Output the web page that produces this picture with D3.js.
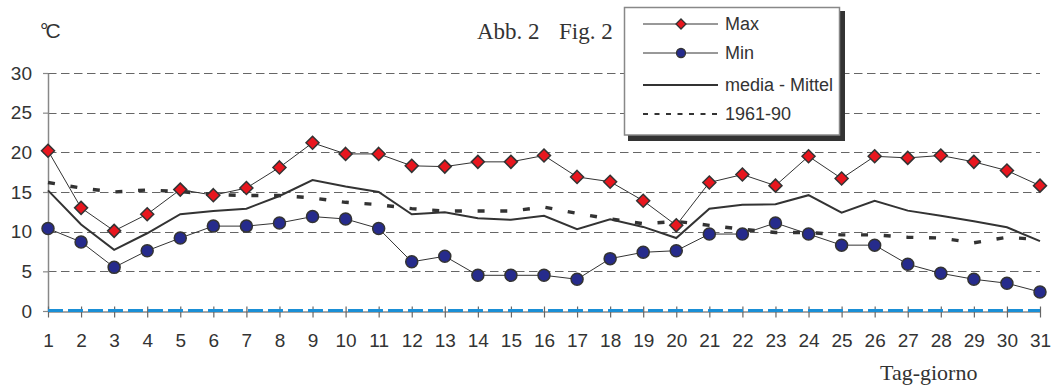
<!DOCTYPE html>
<html>
<head>
<meta charset="utf-8">
<script src="https://cdn.jsdelivr.net/npm/d3@7"></script>
<style>
  html, body { margin: 0; padding: 0; background: #fff; }
  svg { display: block; }
</style>
</head>
<body>
<svg id="chart" width="1051" height="387"></svg>
<script>
const days = d3.range(1, 32);
const yTicks = [0, 5, 10, 15, 20, 25, 30];
const maxTemp = [20.2, 13.0, 10.1, 12.2, 15.3, 14.6, 15.5, 18.1, 21.2, 19.8, 19.8, 18.3, 18.2, 18.8, 18.8, 19.6, 16.9, 16.3, 13.9, 10.8, 16.2, 17.2, 15.8, 19.5, 16.7, 19.5, 19.3, 19.6, 18.8, 17.7, 15.8];
const minTemp = [10.4, 8.7, 5.5, 7.6, 9.2, 10.7, 10.7, 11.1, 11.9, 11.6, 10.4, 6.2, 6.9, 4.5, 4.5, 4.5, 4.0, 6.6, 7.4, 7.6, 9.7, 9.7, 11.1, 9.7, 8.3, 8.3, 5.9, 4.75, 4.0, 3.5, 2.4];
const meanTemp = [15.2, 10.9, 7.7, 9.8, 12.2, 12.6, 12.9, 14.5, 16.5, 15.7, 15.0, 12.2, 12.45, 11.7, 11.5, 12.0, 10.3, 11.55, 10.6, 9.2, 12.9, 13.4, 13.45, 14.6, 12.4, 13.9, 12.65, 12.0, 11.3, 10.55, 8.8];
const normal6190 = [16.2, 15.5, 15.0, 15.25, 15.05, 14.7, 14.55, 14.55, 14.25, 13.7, 13.4, 12.9, 12.6, 12.6, 12.6, 13.1, 12.3, 11.6, 11.0, 11.3, 10.8, 10.3, 9.9, 9.9, 9.6, 9.6, 9.3, 9.2, 8.6, 9.3, 9.0];
const baseline = [0, 0, 0, 0, 0, 0, 0, 0, 0, 0, 0, 0, 0, 0, 0, 0, 0, 0, 0, 0, 0, 0, 0, 0, 0, 0, 0, 0, 0, 0, 0];
const legendLabels = ["Max", "Min", "media - Mittel", "1961-90"];

const svg = d3.select("#chart");
const x = d3.scaleLinear().domain([1, 31]).range([48, 1040]);
const y = d3.scaleLinear().domain([0, 30]).range([311, 73]);
const sans = "'Liberation Sans', Arial, sans-serif";
const serif = "'Liberation Serif', 'Times New Roman', serif";
const textCol = "#333";

// grid lines
svg.append("g").selectAll("line").data(yTicks.filter(d => d > 0)).join("line")
  .attr("x1", x(1)).attr("x2", x(31))
  .attr("y1", d => Math.round(y(d)) + 0.5).attr("y2", d => Math.round(y(d)) + 0.5)
  .attr("stroke", "#666").attr("stroke-width", 1).attr("stroke-dasharray", "8.5,4.5");

// y axis
const yAxis = svg.append("g").attr("transform", `translate(${x(1)},0)`)
  .call(d3.axisLeft(y).tickValues(yTicks).tickSize(5).tickSizeOuter(0).tickPadding(11));
yAxis.select(".domain").attr("stroke", "#888").attr("stroke-width", 1.5);
yAxis.selectAll(".tick line").attr("stroke", "#888").attr("stroke-width", 1.2);
yAxis.selectAll("text").attr("font-family", sans).attr("font-size", 19).attr("fill", textCol);

// x axis
const xAxis = svg.append("g").attr("transform", `translate(0,${y(0) + 0.5})`)
  .call(d3.axisBottom(x).tickValues(days).tickFormat(d3.format("d")).tickSize(6).tickSizeOuter(0).tickPadding(16));
xAxis.select(".domain").attr("stroke", "#888").attr("stroke-width", 1.5);
xAxis.selectAll(".tick line").attr("y1", -5).attr("stroke", "#666").attr("stroke-width", 1.2);
xAxis.selectAll("text").attr("font-family", sans).attr("font-size", 19).attr("fill", textCol);

// blue dashed baseline series
svg.append("path").datum(baseline)
  .attr("d", d3.line().x((d, i) => x(days[i])).y(d => y(d) - 0.5))
  .attr("fill", "none").attr("stroke", "#1a8fd6").attr("stroke-width", 3)
  .attr("stroke-dasharray", "15,5");

const line = d3.line().x((d, i) => x(days[i])).y(d => y(d));

// 1961-90
svg.append("path").datum(normal6190).attr("d", line)
  .attr("fill", "none").attr("stroke", "#333").attr("stroke-width", 3.4)
  .attr("stroke-dasharray", "7,15.7");

// mean
svg.append("path").datum(meanTemp).attr("d", line)
  .attr("fill", "none").attr("stroke", "#333").attr("stroke-width", 2);

// min
svg.append("path").datum(minTemp).attr("d", line)
  .attr("fill", "none").attr("stroke", "#333").attr("stroke-width", 1);
// max
svg.append("path").datum(maxTemp).attr("d", line)
  .attr("fill", "none").attr("stroke", "#333").attr("stroke-width", 1);

const diamond = s => `M0,${-s}L${s},0L0,${s}L${-s},0Z`;

svg.append("g").selectAll("circle").data(minTemp).join("circle")
  .attr("cx", (d, i) => x(days[i])).attr("cy", d => y(d)).attr("r", 6)
  .attr("fill", "#262b8c").attr("stroke", "#333").attr("stroke-width", 1.5);

svg.append("g").selectAll("path").data(maxTemp).join("path")
  .attr("transform", (d, i) => `translate(${x(days[i])},${y(d)})`)
  .attr("d", diamond(6.5))
  .attr("fill", "#e8161e").attr("stroke", "#333").attr("stroke-width", 1.5);

// texts
svg.append("text").attr("x", 40).attr("y", 38).text("°C")
  .attr("letter-spacing", -3)
  .attr("font-family", sans).attr("font-size", 21).attr("fill", textCol);
svg.append("text").attr("x", 477).attr("y", 39).text("Abb. 2")
  .attr("font-family", serif).attr("font-size", 23).attr("fill", textCol);
svg.append("text").attr("x", 559).attr("y", 39).text("Fig. 2")
  .attr("font-family", serif).attr("font-size", 23).attr("fill", textCol);
svg.append("text").attr("x", 880).attr("y", 380).text("Tag-giorno")
  .attr("font-family", serif).attr("font-size", 22).attr("fill", textCol);

// legend
const lg = svg.append("g");
lg.append("rect").attr("x", 628).attr("y", 11).attr("width", 217).attr("height", 130).attr("fill", "#333");
lg.append("rect").attr("x", 624.5).attr("y", 7.5).attr("width", 215).attr("height", 127.5)
  .attr("fill", "#fff").attr("stroke", "#888").attr("stroke-width", 1.5);
const rowsY = [24, 53, 85, 114];
const lx1 = 643, lx2 = 718, lmx = 681;
legendLabels.forEach((lab, i) => {
  const ly = rowsY[i];
  const ln = lg.append("line").attr("x1", lx1).attr("x2", lx2).attr("y1", ly).attr("y2", ly).attr("stroke", "#333");
  if (i < 2) ln.attr("stroke-width", 1);
  if (i === 2) ln.attr("stroke-width", 2);
  if (i === 3) ln.attr("stroke-width", 2).attr("stroke-dasharray", "5,6.5");
  if (i === 0) lg.append("path").attr("transform", `translate(${lmx},${ly})`).attr("d", diamond(5))
    .attr("fill", "#e8161e").attr("stroke", "#333").attr("stroke-width", 1.3);
  if (i === 1) lg.append("circle").attr("cx", lmx).attr("cy", ly).attr("r", 4.5)
    .attr("fill", "#262b8c").attr("stroke", "#333").attr("stroke-width", 1.3);
  lg.append("text").attr("x", 725).attr("y", ly).attr("dy", "0.35em").text(lab)
    .attr("font-family", sans).attr("font-size", 18).attr("fill", textCol);
});
</script>
</body>
</html>
